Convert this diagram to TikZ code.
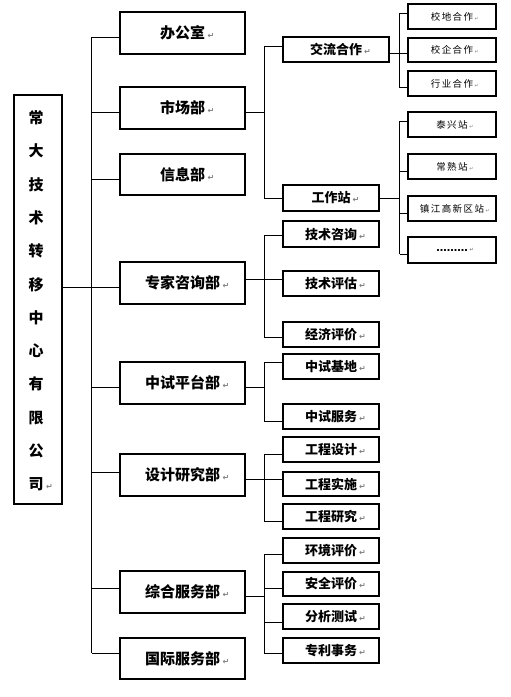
\documentclass[tikz,border=0pt]{standalone}
\usepackage{fontspec}
\newfontfamily\cjk{Noto Sans CJK SC}
\newfontfamily\symf{DejaVu Sans}
\newcommand\retm{\rlap{\,\symf\fontsize{8}{8}\selectfont\textcolor{gray}{↵}}}
\newcommand\rets{\rlap{\,\symf\fontsize{5}{5}\selectfont\textcolor{gray}{↵}}}
\tikzset{
  box/.style={draw=black, line width=1.2pt, rectangle, inner sep=0pt, fill=white},
  bigt/.style={font=\cjk\bfseries\fontsize{15}{15}\selectfont},
  midt/.style={font=\cjk\bfseries\fontsize{13}{13}\selectfont},
  smlt/.style={font=\cjk\fontsize{9.5}{9.5}\selectfont\addfontfeature{LetterSpace=15}},
  conn/.style={draw=black, line width=1pt},
}
\newcommand\bxx[7][bigt]{%
  \node[box,#1,minimum width={(#5-#3)*1pt},minimum height={(#6-#4)*1pt}]
    (#2) at ({(#3+#5)/2},{(#4+#6)/2}) {#7};}
\begin{document}
\begin{tikzpicture}[x=1pt,y=-1pt]
\useasboundingbox[fill=white] (0,0) rectangle (511,697);

% root
\node[box,minimum width=48pt,minimum height=409pt] (root) at (38,299.5) {};
\node[bigt,align=center,inner sep=0pt,font=\cjk\bfseries\fontsize{15}{33.3}\selectfont] (roott) at (36,301)
  {常\\大\\技\\术\\转\\移\\中\\心\\有\\限\\公\\司\retm};

% column 1
\bxx{A}{120}{12}{245}{54}{办公室\retm}
\bxx{B}{120}{87}{245}{129}{市场部\retm}
\bxx{C}{120}{154}{245}{195}{信息部\retm}
\bxx{D}{120}{262}{245}{304}{专家咨询部\retm}
\bxx{E}{120}{362}{245}{404}{中试平台部\retm}
\bxx{F}{120}{454}{245}{496}{设计研究部\retm}
\bxx{G}{120}{571}{245}{613}{综合服务部\retm}
\bxx{H}{120}{638}{245}{679}{国际服务部\retm}

% column 2
\bxx[midt]{B1}{283}{37}{389}{62}{交流合作\retm}
\bxx[midt]{B2}{283}{185}{379}{211}{工作站\retm}
\bxx[midt]{D1}{283}{221}{379}{247}{技术咨询\retm}
\bxx[midt]{D2}{283}{271}{379}{296}{技术评估\retm}
\bxx[midt]{D3}{283}{322}{379}{347}{经济评价\retm}
\bxx[midt]{E1}{283}{354}{379}{379}{中试基地\retm}
\bxx[midt]{E2}{283}{404}{379}{429}{中试服务\retm}
\bxx[midt]{F1}{283}{437}{379}{462}{工程设计\retm}
\bxx[midt]{F2}{283}{472}{379}{496}{工程实施\retm}
\bxx[midt]{F3}{283}{504}{379}{529}{工程研究\retm}
\bxx[midt]{G1}{283}{538}{379}{563}{环境评价\retm}
\bxx[midt]{G2}{283}{572}{379}{596}{安全评价\retm}
\bxx[midt]{G3}{283}{604}{379}{629}{分析测试\retm}
\bxx[midt]{G4}{283}{638}{379}{663}{专利事务\retm}

% column 3
\bxx[smlt]{K1}{408}{4}{496}{29}{校地合作\rets}
\bxx[smlt]{K2}{408}{38}{496}{62}{校企合作\rets}
\bxx[smlt]{K3}{408}{71}{496}{96}{行业合作\rets}
\bxx[smlt]{W1}{408}{112}{496}{137}{泰兴站\rets}
\bxx[smlt]{W2}{408}{154}{496}{179}{常熟站\rets}
\bxx[smlt]{W3}{408}{196}{496}{221}{镇江高新区站\rets}
\bxx[font=\symf\bfseries\fontsize{10.5}{10.5}\selectfont]{W4}{408}{237}{496}{263}{………\rets}

% trunk coordinates
\coordinate (t0) at (91.5,287);
\coordinate (tA) at (91.5,37);
\coordinate (tB) at (91.5,112);
\coordinate (tC) at (91.5,179);
\coordinate (tD) at (91.5,287);
\coordinate (tE) at (91.5,387);
\coordinate (tF) at (91.5,472);
\coordinate (tG) at (91.5,588);
\coordinate (tH) at (91.5,653);

\draw[conn] (root.east |- t0) -- (t0);
\draw[conn] (tA) -- (tH);
\foreach \n in {A,B,C,D,E,F,G,H} \draw[conn] (t\n) -- (\n.west |- t\n);

% market dept
\coordinate (sB) at (264,112);
\coordinate (sB1) at (264,46);
\coordinate (sB2) at (264,198);
\draw[conn] (B.east |- sB) -- (sB);
\draw[conn] (sB1) -- (sB2);
\draw[conn] (sB1) -- (B1.west |- sB1);
\draw[conn] (sB2) -- (B2.west |- sB2);

% exchange cooperation
\coordinate (uK) at (399,53);
\coordinate (uK1) at (399,13);
\coordinate (uK2) at (399,53);
\coordinate (uK3) at (399,87);
\draw[conn] (B1.east |- uK) -- (uK);
\draw[conn] (uK1) -- (uK3);
\foreach \n in {1,2,3} \draw[conn] (uK\n) -- (K\n.west |- uK\n);

% work stations
\coordinate (uW) at (399.5,198);
\coordinate (uW1) at (399.5,121);
\coordinate (uW2) at (399.5,171);
\coordinate (uW3) at (399.5,213);
\coordinate (uW4) at (399.5,254);
\draw[conn] (B2.east |- uW) -- (uW);
\draw[conn] (uW1) -- (uW4);
\foreach \n in {1,2,3,4} \draw[conn] (uW\n) -- (W\n.west |- uW\n);

% expert dept
\coordinate (sD) at (264,279);
\coordinate (sD1) at (264,235);
\coordinate (sD2) at (264,279);
\coordinate (sD3) at (264,337);
\draw[conn] (D.east |- sD) -- (sD);
\draw[conn] (sD1) -- (sD3);
\foreach \n in {1,2,3} \draw[conn] (sD\n) -- (D\n.west |- sD\n);

% pilot dept
\coordinate (sE) at (264,387);
\coordinate (sE1) at (264,362);
\coordinate (sE2) at (264,421);
\draw[conn] (E.east |- sE) -- (sE);
\draw[conn] (sE1) -- (sE2);
\foreach \n in {1,2} \draw[conn] (sE\n) -- (E\n.west |- sE\n);

% design dept
\coordinate (sF) at (264,479);
\coordinate (sF1) at (264,454);
\coordinate (sF2) at (264,479);
\coordinate (sF3) at (264,521);
\draw[conn] (F.east |- sF) -- (sF);
\draw[conn] (sF1) -- (sF3);
\foreach \n in {1,2,3} \draw[conn] (sF\n) -- (F\n.west |- sF\n);

% general service dept
\coordinate (sG) at (264,596);
\coordinate (sG1) at (264,554);
\coordinate (sG2) at (264,588);
\coordinate (sG3) at (264,622);
\coordinate (sG4) at (264,653);
\draw[conn] (G.east |- sG) -- (sG);
\draw[conn] (sG1) -- (sG4);
\foreach \n in {1,2,3,4} \draw[conn] (sG\n) -- (G\n.west |- sG\n);
\end{tikzpicture}
\end{document}
